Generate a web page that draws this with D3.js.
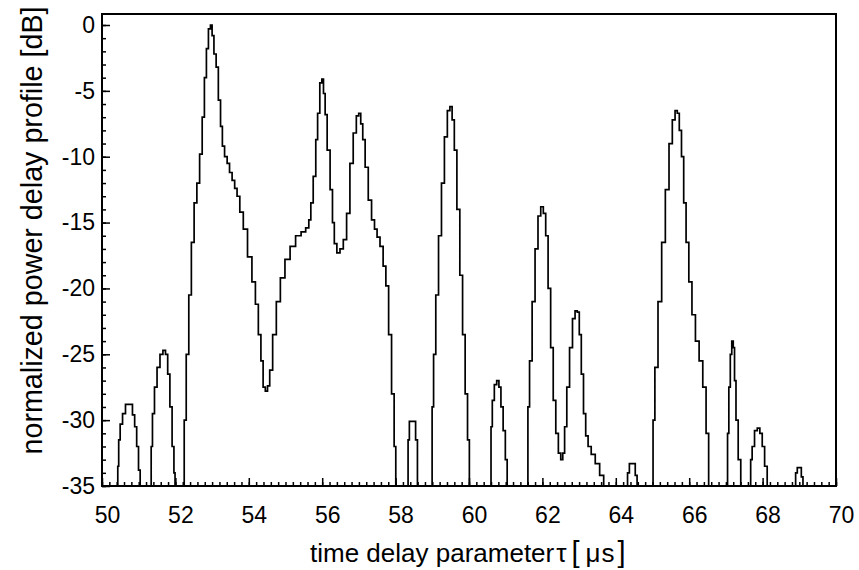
<!DOCTYPE html>
<html>
<head>
<meta charset="utf-8">
<script src="https://cdn.jsdelivr.net/npm/d3@7"></script>
<style>
  body { margin: 0; background: #fff; }
  svg { display: block; }
  text { font-family: "Liberation Sans", Arial, sans-serif; fill: #000; }
</style>
</head>
<body>
<div class="chart"></div>
<script>
'use strict'

let width = 859;
let height = 570;

/* time delay [us] and normalized power delay profile [dB] */
const delay = [
  50.00, 50.42, 50.44, 50.47, 50.52, 50.60, 50.68, 50.80, 50.86, 50.92, 50.97, 51.02, 51.06,
  51.33, 51.35, 51.40, 51.46, 51.54, 51.62, 51.70, 51.76, 51.82, 51.88, 51.94, 51.98, 52.00,
  52.22, 52.26, 52.33, 52.40, 52.47, 52.55, 52.62, 52.70, 52.76, 52.82, 52.87, 52.93, 52.98,
  53.02, 53.08, 53.14, 53.20, 53.26, 53.30, 53.38, 53.44, 53.51, 53.58, 53.65, 53.71, 53.80, 53.90,
  54.03, 54.14, 54.22, 54.30, 54.36, 54.42, 54.48, 54.54, 54.60, 54.70, 54.80, 54.92,
  55.05, 55.20, 55.35, 55.50, 55.60, 55.67, 55.71, 55.80, 55.85, 55.90, 55.97,
  56.01, 56.06, 56.10, 56.17, 56.26, 56.30, 56.36, 56.44, 56.53, 56.62, 56.71, 56.80, 56.89, 56.97,
  57.02, 57.08, 57.13, 57.21, 57.30, 57.39, 57.46, 57.53, 57.62, 57.70, 57.77, 57.85, 57.93, 57.99,
  58.02, 58.33, 58.35, 58.40, 58.52, 58.57, 58.62,
  58.98, 59.01, 59.06, 59.13, 59.21, 59.29, 59.37, 59.45, 59.51, 59.57, 59.63, 59.71, 59.79,
  59.86, 59.93, 59.99, 60.03,
  60.59, 60.61, 60.66, 60.72, 60.79, 60.84, 60.90, 60.96, 61.02, 61.06,
  61.59, 61.62, 61.68, 61.76, 61.84, 61.92, 61.99, 62.06, 62.12, 62.19, 62.26, 62.33, 62.40,
  62.47, 62.53, 62.58, 62.63, 62.70, 62.78, 62.86, 62.92, 62.98, 63.03, 63.09, 63.15, 63.21, 63.28,
  63.38, 63.50, 63.62, 63.72,
  64.30, 64.34, 64.40, 64.50, 64.56, 64.60,
  65.00, 65.03, 65.10, 65.20, 65.30, 65.40, 65.50, 65.58, 65.65, 65.70, 65.76, 65.82, 65.88,
  65.95, 66.03, 66.12, 66.22, 66.32, 66.42, 66.50, 66.56,
  67.03, 67.06, 67.10, 67.14, 67.18, 67.22, 67.25, 67.30, 67.37, 67.44,
  67.66, 67.69, 67.74, 67.82, 67.89, 67.96, 68.02, 68.09, 68.16,
  68.88, 68.92, 68.97, 69.03, 69.08, 69.12, 69.95
];

const power = [
  -35, -35, -33.5, -31.5, -30.3, -29.5, -28.8, -28.8, -29.6, -30.5, -32, -33.8, -35,
  -35, -32, -29.5, -27.5, -26, -25, -24.7, -25, -26.5, -29, -32, -34, -35,
  -35, -30, -25, -20.5, -16.5, -13.5, -12, -9.8, -7, -4, -1.8, -0.3, 0,
  -0.8, -2.2, -3.2, -5.7, -7.7, -9.2, -10, -10.5, -11.2, -11.8, -12.4, -13, -14.2, -15.5,
  -17.6, -19.5, -21.2, -23.5, -25.5, -27.5, -27.8, -27.4, -26.2, -23.5, -21, -19.2,
  -17.8, -16.8, -16, -15.7, -15.4, -14.8, -13.5, -11.5, -8.7, -6.7, -4.4,
  -4.1, -5.2, -6.8, -9.5, -12.5, -15, -16.6, -17.3, -17, -16.3, -14.3, -10.5, -8.2, -6.9,
  -6.7, -7.5, -8.7, -10.8, -13.3, -14.8, -15.5, -16.1, -16.8, -18.3, -19.8, -23.5, -28, -32,
  -35, -35, -31.5, -30.1, -30.1, -31.5, -35,
  -35, -29, -25, -20.5, -16, -12, -8.5, -6.5, -6.2, -7.2, -9.5, -14, -19,
  -23.5, -28, -31.5, -35,
  -35, -30.5, -28.5, -27.3, -27, -27.5, -29, -30.8, -33, -35,
  -35, -29, -25.5, -21, -17, -14.5, -13.8, -14.3, -16, -20, -24.5, -28.5, -31,
  -32.5, -33, -32.5, -30.5, -27.5, -24.5, -22.3, -21.7, -21.8, -23.5, -26.5, -29.5, -31.2, -32,
  -32.6, -33.3, -34.2, -35,
  -35, -34, -33.3, -33.3, -34.2, -35,
  -35, -30, -26, -21, -16.5, -12.5, -9, -7.2, -6.5, -6.7, -8, -10, -13.5,
  -16.5, -19.5, -22, -24, -25.5, -27.5, -31, -35,
  -35, -31, -27.5, -25, -24, -24.5, -27, -30, -33, -35,
  -35, -33, -32, -30.8, -30.6, -31, -32, -33.5, -35,
  -35, -34, -33.6, -33.6, -34.3, -35, -35
];

const xTicks = [50, 52, 54, 56, 58, 60, 62, 64, 66, 68, 70];
const yTicks = [0, -5, -10, -15, -20, -25, -30, -35];

const xTitle = 'time delay parameter';
const yTitle = 'normalized power delay profile [dB]';


function drawChart () {
    const left = 102, right = 836, top = 14, bottom = 486;

    const xScale = d3.scaleLinear().domain([50, 70]).range([left, right]);
    const yScale = d3.scaleLinear().domain([-35, 0]).range([bottom, 25]);

    const svg = d3.select('.chart')
                  .append('svg')
                  .attr('width', width)
                  .attr('height', height);

    /* minor ticks first, then the labelled ones */
    const xMinor = d3.range(500, 701, 2).map(d => d / 10);
    const yMinor = d3.range(-35, 1, 1);

    svg.append('g')
       .attr('transform', 'translate(0,' + bottom + ')')
       .call(d3.axisBottom(xScale).tickValues(xMinor).tickSize(-4).tickFormat(''))
       .call(g => g.select('.domain').remove());

    svg.append('g')
       .attr('transform', 'translate(' + left + ',0)')
       .call(d3.axisLeft(yScale).tickValues(yMinor).tickSize(-4).tickFormat(''))
       .call(g => g.select('.domain').remove());

    const xAxis = svg.append('g')
       .attr('id', 'x-axis')
       .attr('transform', 'translate(0,' + bottom + ')')
       .call(d3.axisBottom(xScale).tickValues(xTicks).tickSize(-8).tickPadding(21));
    xAxis.select('.domain').remove();
    xAxis.selectAll('text')
         .attr('dx', 5)
         .style('font-size', '23px');

    const yAxis = svg.append('g')
       .attr('id', 'y-axis')
       .attr('transform', 'translate(' + left + ',0)')
       .call(d3.axisLeft(yScale).tickValues(yTicks).tickSize(-8).tickPadding(7)
               .tickFormat(d => d === 0 ? '0' : '-' + Math.abs(d)));
    yAxis.select('.domain').remove();
    yAxis.selectAll('text').style('font-size', '23px');

    svg.selectAll('.tick line')
       .attr('stroke', '#000')
       .attr('stroke-width', 1.5);

    /* the profile, clipped at the -35 dB floor, drawn as a staircase */
    const rData = delay.map((t, i) => [t, Math.max(power[i], -35)]);
    const line = d3.line()
                   .curve(d3.curveStep)
                   .x(d => xScale(d[0]))
                   .y(d => yScale(d[1]));

    svg.append('path')
       .datum(rData)
       .attr('d', line)
       .attr('fill', 'none')
       .attr('stroke', '#000')
       .attr('stroke-width', 1.7);

    svg.append('rect')
       .attr('x', left)
       .attr('y', top)
       .attr('width', right - left)
       .attr('height', bottom - top)
       .attr('fill', 'none')
       .attr('stroke', '#000')
       .attr('stroke-width', 2);

    /* x title: symbol part is spaced out like the original */
    const xt = svg.append('text')
       .attr('x', 310)
       .attr('y', 562)
       .style('font-size', '26px')
       .text(xTitle);
    xt.append('tspan').attr('dx', 2).text('τ');
    xt.append('tspan').attr('dx', 5).style('font-size', '29px').text('[');
    xt.append('tspan').attr('dx', 6).text('μ');
    xt.append('tspan').attr('dx', 1).text('s');
    xt.append('tspan').attr('dx', 3).style('font-size', '29px').text(']');

    svg.append('text')
       .attr('transform', 'translate(42,230.5) rotate(-90)')
       .attr('text-anchor', 'middle')
       .style('font-size', '28.7px')
       .text(yTitle);
}

document.addEventListener('DOMContentLoaded', function(e){
    drawChart();
});
</script>
</body>
</html>
